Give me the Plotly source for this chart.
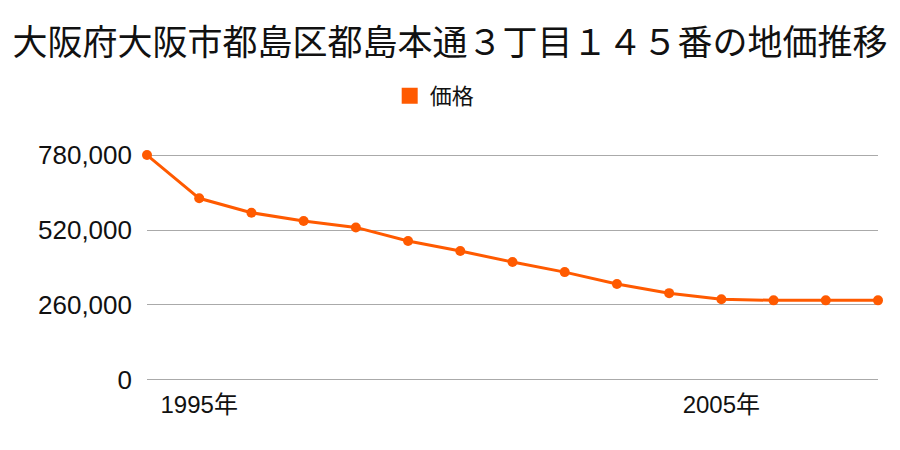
import plotly.graph_objects as go

years = [1994, 1995, 1996, 1997, 1998, 1999, 2000, 2001, 2002, 2003, 2004, 2005, 2006, 2007, 2008]
prices = [780000, 630000, 580000, 551000, 529000, 482000, 447000, 409000, 374000, 333000, 301000, 280000, 276000, 276000, 276000]
yticks = [0, 260000, 520000, 780000]
ytick_text = ["0", "260,000", "520,000", "780,000"]
xticks = [1995, 2005]
xtick_text = ["1995年", "2005年"]

font = "Liberation Sans, Noto Sans CJK JP"
cjk = "Noto Sans CJK JP"
color = "#ff5a00"

fig = go.Figure()
fig.add_trace(go.Scatter(
    x=years, y=prices, mode="lines+markers", name="価格",
    line=dict(color=color, width=3),
    marker=dict(color=color, size=10),
    cliponaxis=False, showlegend=False,
))
# legend entry (square swatch)
fig.add_trace(go.Scatter(
    x=[None], y=[None], mode="markers", name="価格",
    marker=dict(color=color, size=22, symbol="square"),
    showlegend=True,
))

fig.update_layout(
    width=900, height=450,
    margin=dict(l=147, r=22, t=151, b=66),
    paper_bgcolor="white", plot_bgcolor="white",
    font=dict(family=font, color="#111"),
    title=dict(text="大阪府大阪市都島区都島本通３丁目１４５番の地価推移",
               x=0.5, xanchor="center", y=0.905, yanchor="middle",
               font=dict(size=35, family=cjk, color="#111")),
    showlegend=True,
    legend=dict(orientation="h", x=0.332, xanchor="left", y=1.236, yanchor="middle",
                font=dict(size=22, family=cjk, color="#111"), itemsizing="trace"),
    xaxis=dict(range=[1994, 2008], tickvals=xticks, ticktext=xtick_text,
               showgrid=False, zeroline=False, showline=False,
               tickfont=dict(size=24, family=font, color="#111"), ticks="",
               ticklabelstandoff=4),
    yaxis=dict(range=[-14000, 794000], tickvals=yticks, ticktext=ytick_text,
               showgrid=True, gridcolor="#aaaaaa", gridwidth=1,
               zeroline=True, zerolinecolor="#aaaaaa", zerolinewidth=1,
               showline=False, ticks="", ticklabelstandoff=14,
               tickfont=dict(size=26, family=font, color="#111")),
)

fig.write_html("out.html")
